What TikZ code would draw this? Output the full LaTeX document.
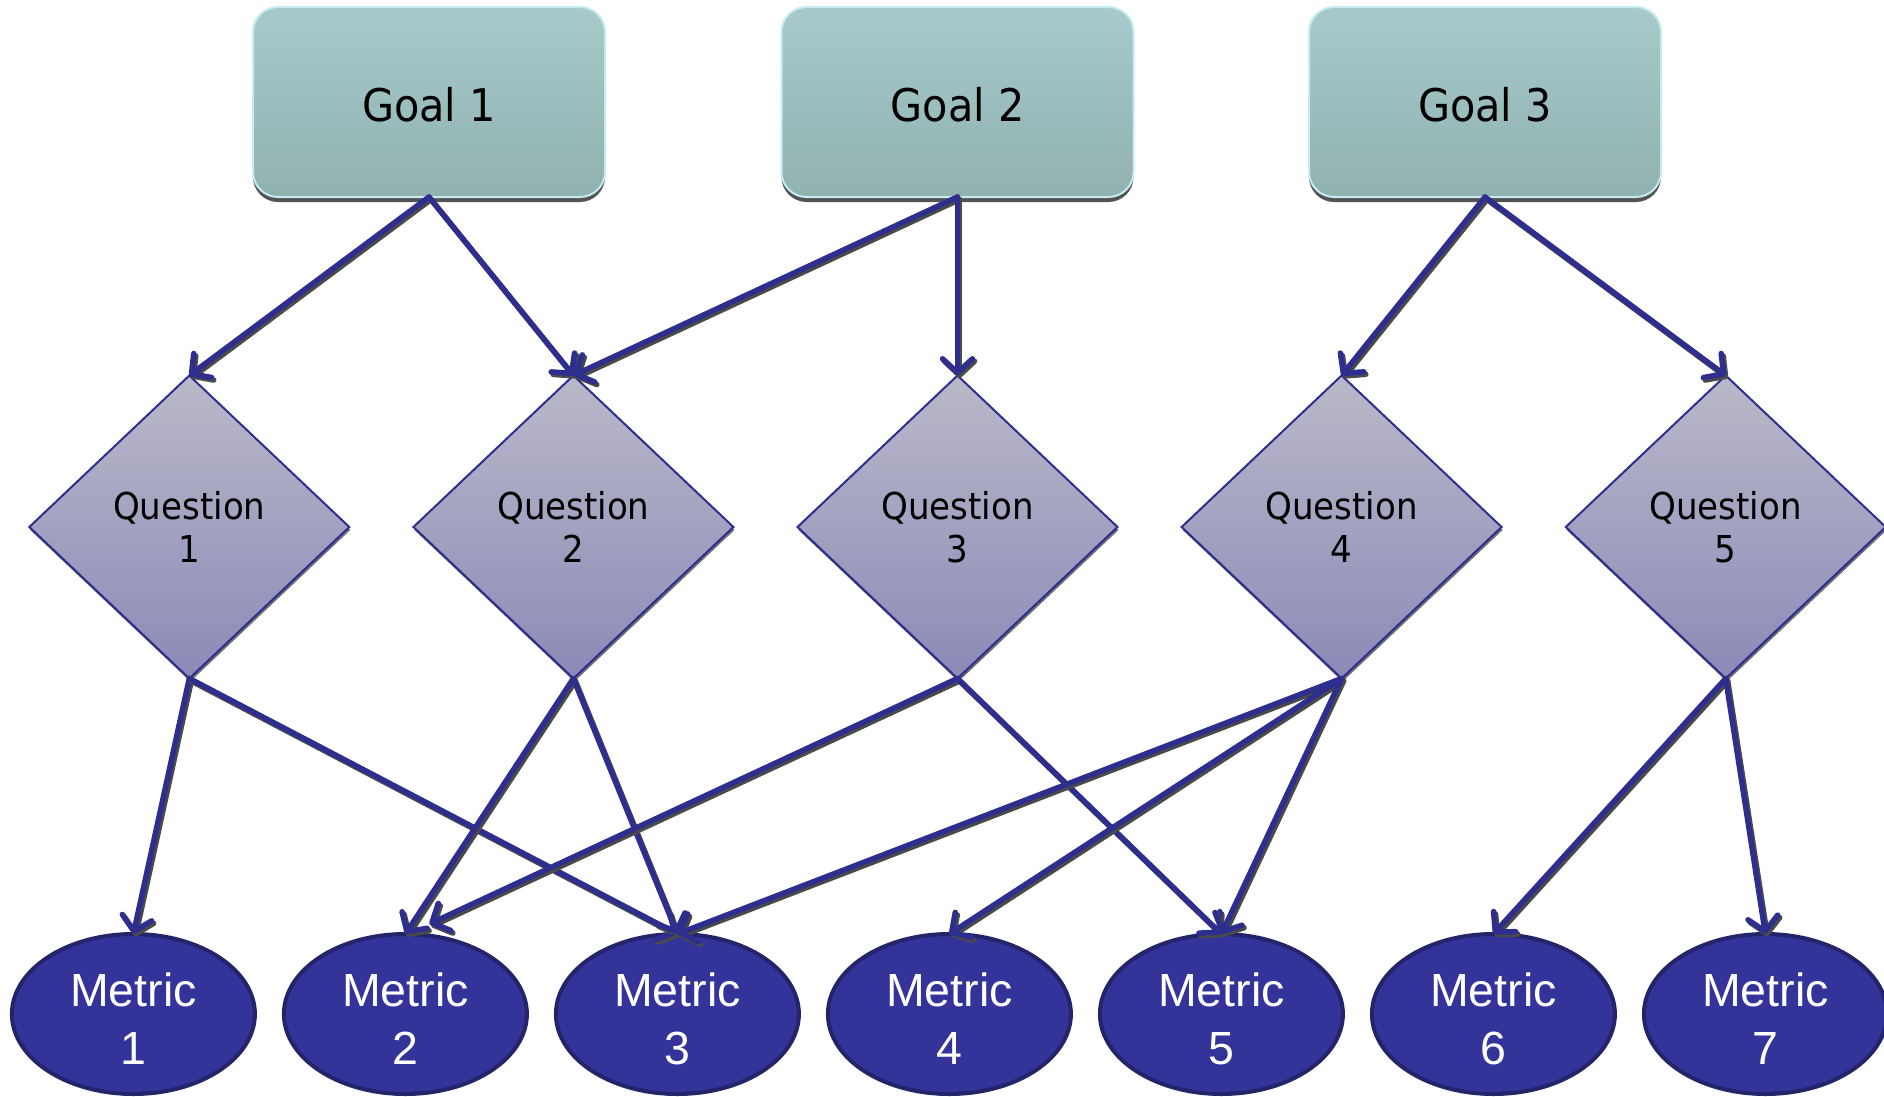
\documentclass[tikz,border=0pt]{standalone}
\usepackage{fontspec}
\usetikzlibrary{shapes.geometric,arrows.meta,shadows,calc}
\newfontfamily\gfont[FakeStretch=0.92]{DejaVu Sans}
\newfontfamily\mfont{Liberation Sans}
\definecolor{navy}{HTML}{2E2E8E}
\definecolor{ellfill}{HTML}{333399}
\definecolor{elldraw}{HTML}{24246B}
\definecolor{goaltop}{HTML}{A6CACA}
\definecolor{goalbot}{HTML}{92B1B1}
\definecolor{goaledge}{HTML}{C4ECF0}
\definecolor{qtop}{HTML}{BAB9C9}
\definecolor{qbot}{HTML}{8B8AB8}
\definecolor{shade}{HTML}{4A4A4A}
\tikzset{
  goalbox/.style={rectangle, rounded corners=25pt, minimum width=352pt, minimum height=190pt,
    top color=goaltop, bottom color=goalbot, draw=goaledge, line width=2pt, outer sep=0pt,
    drop shadow={shadow xshift=0pt, shadow yshift=-5pt, fill=shade, opacity=0.95},
    font=\gfont\fontsize{45}{54}\selectfont, text height=40pt, text depth=0pt},
  qbox/.style={diamond, minimum width=320pt, minimum height=303pt, inner sep=0pt, outer sep=0pt,
    top color=qtop, bottom color=qbot, draw=navy, line width=2pt, align=center,
    drop shadow={shadow xshift=1pt, shadow yshift=-3pt, fill=shade, opacity=0.8},
    font=\gfont\fontsize{37}{43}\selectfont},
  mbox/.style={ellipse, minimum width=243pt, minimum height=160pt, inner sep=0pt, outer sep=0pt,
    fill=ellfill, draw=elldraw, line width=4pt},
  mtext/.style={text=white, align=center, font=\mfont\fontsize{46.5}{58}\selectfont},
  link/.style={draw=navy, line width=5.5pt, line cap=round,
    -{Straight Barb[length=14pt,width=30pt,round]}},
  linkshadow/.style={draw=shade, line width=5.5pt, line cap=round,
    -{Straight Barb[length=14pt,width=30pt,round]}},
}
\newcommand\lnk[2]{\draw[linkshadow] ($(#1)+(2,2.5)$) -- ($(#2)+(2,2.5)$); \draw[link] (#1) -- (#2);}
\begin{document}
\begin{tikzpicture}[x=1pt,y=-1pt]
\useasboundingbox (0,0) rectangle (1884,1097);
% goals
\node[goalbox] (g1) at (429,102) {Goal 1};
\node[goalbox] (g2) at (957.5,102) {Goal 2};
\node[goalbox] (g3) at (1485,102) {Goal 3};
% questions
\node[qbox] (q1) at (189.3,527) {Question\\1};
\node[qbox] (q2) at (573.4,527) {Question\\2};
\node[qbox] (q3) at (957.5,527) {Question\\3};
\node[qbox] (q4) at (1341.6,527) {Question\\4};
\node[qbox] (q5) at (1725.7,527) {Question\\5};
% metrics
\node[mbox] (m1) at (133.4,1014) {};
\node[mbox] (m2) at (405.4,1014) {};
\node[mbox] (m3) at (677.4,1014) {};
\node[mbox] (m4) at (949.4,1014) {};
\node[mbox] (m5) at (1221.4,1014) {};
\node[mbox] (m6) at (1493.4,1014) {};
\node[mbox] (m7) at (1765.4,1014) {};
\node[mtext] (l1) at (133.4,1019) {Metric\\1};
\node[mtext] (l2) at (405.4,1019) {Metric\\2};
\node[mtext] (l3) at (677.4,1019) {Metric\\3};
\node[mtext] (l4) at (949.4,1019) {Metric\\4};
\node[mtext] (l5) at (1221.4,1019) {Metric\\5};
\node[mtext] (l6) at (1493.4,1019) {Metric\\6};
\node[mtext] (l7) at (1765.4,1019) {Metric\\7};
% goal -> question
\lnk{g1.south}{q1.north}
\lnk{g1.south}{q2.north}
\lnk{g2.south}{q2.north}
\lnk{g2.south}{q3.north}
\lnk{g3.south}{q4.north}
\lnk{g3.south}{q5.north}
% question -> metric
\lnk{q1.south}{m1.north}
\lnk{q1.south}{m3.north}
\lnk{q2.south}{m2.north}
\lnk{q2.south}{m3.north}
\lnk{q3.south}{$(m2.north)+(24,-10)$}
\lnk{q3.south}{m5.north}
\lnk{q4.south}{m3.north}
\lnk{q4.south}{m4.north}
\lnk{q4.south}{m5.north}
\lnk{q5.south}{m6.north}
\lnk{q5.south}{m7.north}
\end{tikzpicture}
\end{document}
